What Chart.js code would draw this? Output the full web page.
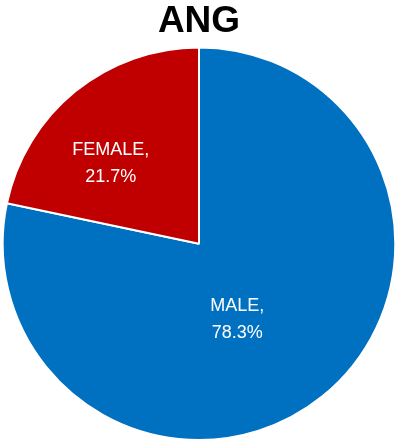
<!DOCTYPE html>
<html>
<head>
<meta charset="utf-8">
<script src="https://cdn.jsdelivr.net/npm/chart.js@4.4.1/dist/chart.umd.min.js"></script>
<style>
  html, body { margin: 0; padding: 0; background: #fff; }
  #wrap { width: 401px; height: 441px; }
</style>
</head>
<body>
<div id="wrap"><canvas id="pie-chart" width="401" height="441"></canvas></div>
<script>
const labels = ['MALE', 'FEMALE']
const values = [78.3, 21.7]
const colors = ['#0070C0', '#C00000']

// where each label sits: angle from 12 o'clock (deg, clockwise) and share of radius
const labelSpots = [
  { angle: 153, dist: 0.43 },
  { angle: 312.6, dist: 0.61 }
]

const sliceLabels = {
  id: 'sliceLabels',
  afterDatasetsDraw(chart) {
    const ctx = chart.ctx
    const meta = chart.getDatasetMeta(0)
    ctx.save()
    ctx.fillStyle = '#fff'
    ctx.font = '18px "Liberation Sans", Arial, sans-serif'
    ctx.textAlign = 'center'
    ctx.textBaseline = 'middle'
    meta.data.forEach((arc, i) => {
      const spot = labelSpots[i]
      const a = spot.angle * Math.PI / 180
      const r = arc.outerRadius * spot.dist
      const x = arc.x + Math.sin(a) * r
      const y = arc.y - Math.cos(a) * r
      ctx.fillText(labels[i] + ',', x, y - 13)
      ctx.fillText(values[i].toFixed(1) + '%', x, y + 14)
    })
    ctx.restore()
  }
}

const ctx = document.getElementById('pie-chart').getContext('2d')

new Chart(ctx, {
  type: 'pie',
  data: {
    labels: labels,
    datasets: [{
      data: values,
      backgroundColor: colors,
      borderColor: '#fff',
      borderWidth: 2
    }]
  },
  options: {
    responsive: false,
    animation: false,
    layout: {
      padding: { top: 0, bottom: 0, left: 1.5, right: 4.5 }
    },
    plugins: {
      legend: { display: false },
      tooltip: { enabled: false },
      title: {
        display: true,
        text: 'ANG',
        color: '#000',
        font: { size: 37, weight: 'bold', family: '"Liberation Sans", Arial, sans-serif' },
        padding: { top: 0, bottom: 2 }
      }
    }
  },
  plugins: [sliceLabels]
})
</script>
</body>
</html>
